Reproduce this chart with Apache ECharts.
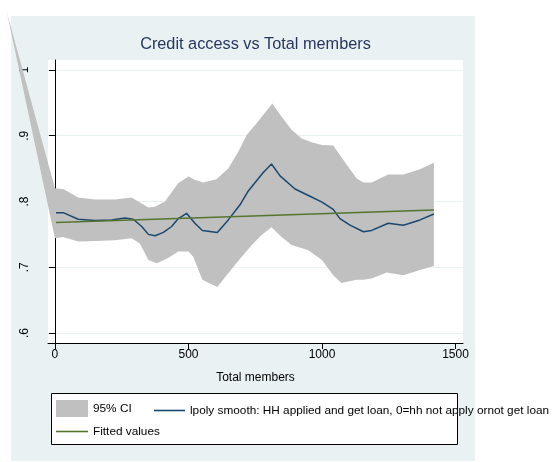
<!DOCTYPE html>
<html><head><meta charset="utf-8">
<script src="https://cdn.jsdelivr.net/npm/echarts@6/dist/echarts.min.js"></script>
<style>html,body{margin:0;padding:0;background:#fff}#c{width:553px;height:462px}</style>
</head><body><div id="c"></div>
<script>
const titleText = 'Credit access vs Total members';
const xName = 'Total members';
const xTicks = [0, 500, 1000, 1500];
const xTickLabels = ['0', '500', '1000', '1500'];
const yTicks = [0.6, 0.7, 0.8, 0.9, 1.0];
const yTickLabels = ['.6', '.7', '.8', '.9', '1'];
const ciName = '95% CI';
const smoothName = 'lpoly smooth: HH applied and get loan, 0=hh not apply ornot get loan';
const fitName = 'Fitted values';

// stray first vertex of the CI polygon in the original picture
const ciStart = [-180, 1.088];
const ciUpper = [[0,.820],[31,.819],[87,.806],[150,.803],[225,.803],[287,.806],[350,.791],[375,.792],[412,.800],[462,.828],[500,.838],[524,.833],[555,.829],[605,.834],[649,.850],[687,.876],[718,.901],[755,.919],[814,.949],[849,.929],[886,.909],[924,.896],[961,.890],[1000,.886],[1042,.885],[1080,.863],[1130,.835],[1155,.829],[1186,.829],[1248,.841],[1305,.841],[1367,.849],[1419,.859]];
const ciLower = [[0,.744],[31,.746],[87,.739],[150,.740],[225,.741],[287,.744],[318,.736],[350,.711],[381,.706],[424,.714],[462,.724],[500,.724],[518,.716],[552,.681],[608,.670],[649,.691],[687,.710],[737,.734],[774,.749],[811,.761],[849,.746],[886,.734],[949,.726],[1000,.711],[1042,.688],[1073,.676],[1130,.681],[1155,.681],[1186,.683],[1242,.692],[1305,.688],[1367,.696],[1419,.702]];
const smooth = [[4,.783],[31,.783],[87,.773],[150,.771],[212,.772],[262,.775],[293,.773],[325,.762],[350,.750],[375,.748],[406,.753],[437,.762],[462,.774],[493,.782],[524,.767],[552,.756],[608,.753],[649,.772],[693,.795],[724,.816],[780,.844],[811,.857],[843,.839],[899,.819],[955,.808],[1000,.799],[1042,.788],[1067,.774],[1105,.764],[1155,.754],[1186,.756],[1248,.767],[1305,.764],[1367,.772],[1419,.781]];
const fitted = [[4,.768],[1419,.787]];

const FONT = "'Liberation Sans', Arial, Helvetica, sans-serif";
const ciColor = '#c0c0c0', blue = '#1a476f', green = '#55752f', bg = '#e9f1f3';
const legText = {fontFamily: FONT, fontSize: 11.8, color: '#000'};

const chart = echarts.init(document.getElementById('c'), null, {renderer: 'canvas'});
chart.setOption({
  animation: false,
  backgroundColor: '#ffffff',
  title: {
    text: titleText, left: 255.5, top: 37, textAlign: 'center', padding: 0,
    textStyle: {fontFamily: FONT, fontSize: 16.3, fontWeight: 'normal', color: '#27365f'}
  },
  graphic: [
    {type: 'rect', z: -100, shape: {x: 11, y: 16, width: 464, height: 445}, style: {fill: bg}},
    {type: 'rect', z: 1, shape: {x: 51.5, y: 393.5, width: 406, height: 51}, style: {fill: '#fff', stroke: '#000', lineWidth: 1}}
  ],
  grid: {left: 48, right: 90, top: 60, bottom: 119, show: true, backgroundColor: '#fff', borderWidth: 0},
  legend: [
    {left: 56, top: 400, padding: 0, itemWidth: 32, itemHeight: 17, selectedMode: false, width: 480,
     textStyle: legText, data: [{name: ciName, icon: 'rect', itemStyle: {color: ciColor}}]},
    {left: 154, top: 404.5, padding: 0, itemWidth: 31, itemHeight: 1.6, selectedMode: false, width: 480,
     textStyle: legText, data: [{name: smoothName, icon: 'rect', itemStyle: {color: blue}}]},
    {left: 56, top: 425.5, padding: 0, itemWidth: 32, itemHeight: 1.6, selectedMode: false, width: 480,
     textStyle: legText, data: [{name: fitName, icon: 'rect', itemStyle: {color: green}}]}
  ],
  xAxis: {
    type: 'value', min: -26, max: 1528,
    name: xName, nameLocation: 'middle', nameGap: 29,
    nameTextStyle: {fontFamily: FONT, fontSize: 12, color: '#000'},
    axisLine: {show: true, lineStyle: {color: '#000', width: 1}},
    axisTick: {show: true, length: 6, customValues: xTicks, lineStyle: {color: '#000'}},
    axisLabel: {customValues: xTicks, margin: 6, fontFamily: FONT, fontSize: 12, color: '#000',
      formatter: v => xTickLabels[xTicks.indexOf(v)] ?? ''},
    splitLine: {show: false}
  },
  yAxis: {
    type: 'value', min: 0.5848, max: 1.0152,
    axisLine: {show: true, lineStyle: {color: '#000', width: 1}},
    axisTick: {show: true, length: 6, customValues: yTicks, lineStyle: {color: '#000'}},
    axisLabel: {customValues: yTicks, rotate: 90, margin: 17, fontFamily: FONT, fontSize: 12, color: '#000',
      formatter: v => { const i = yTicks.findIndex(t => Math.abs(t - v) < 1e-6); return i >= 0 ? yTickLabels[i] : ''; }},
    splitLine: {show: true, lineStyle: {color: '#eaf2f3', width: 1}}
  },
  series: [
    {
      name: ciName, type: 'custom', z: 2, clip: false,
      itemStyle: {color: ciColor},
      data: [[0, 0.8]],
      renderItem: function (params, api) {
        const pts = [api.coord(ciStart)];
        ciUpper.forEach(p => pts.push(api.coord(p)));
        for (let i = ciLower.length - 1; i >= 0; i--) pts.push(api.coord(ciLower[i]));
        return {type: 'polygon', shape: {points: pts}, style: {fill: ciColor}};
      }
    },
    {name: smoothName, type: 'line', z: 3, data: smooth, symbol: 'none', showSymbol: false,
     lineStyle: {color: blue, width: 1.5}, itemStyle: {color: blue}},
    {name: fitName, type: 'line', z: 4, data: fitted, symbol: 'none', showSymbol: false,
     lineStyle: {color: green, width: 1.6}, itemStyle: {color: green}}
  ]
});
</script></body></html>
